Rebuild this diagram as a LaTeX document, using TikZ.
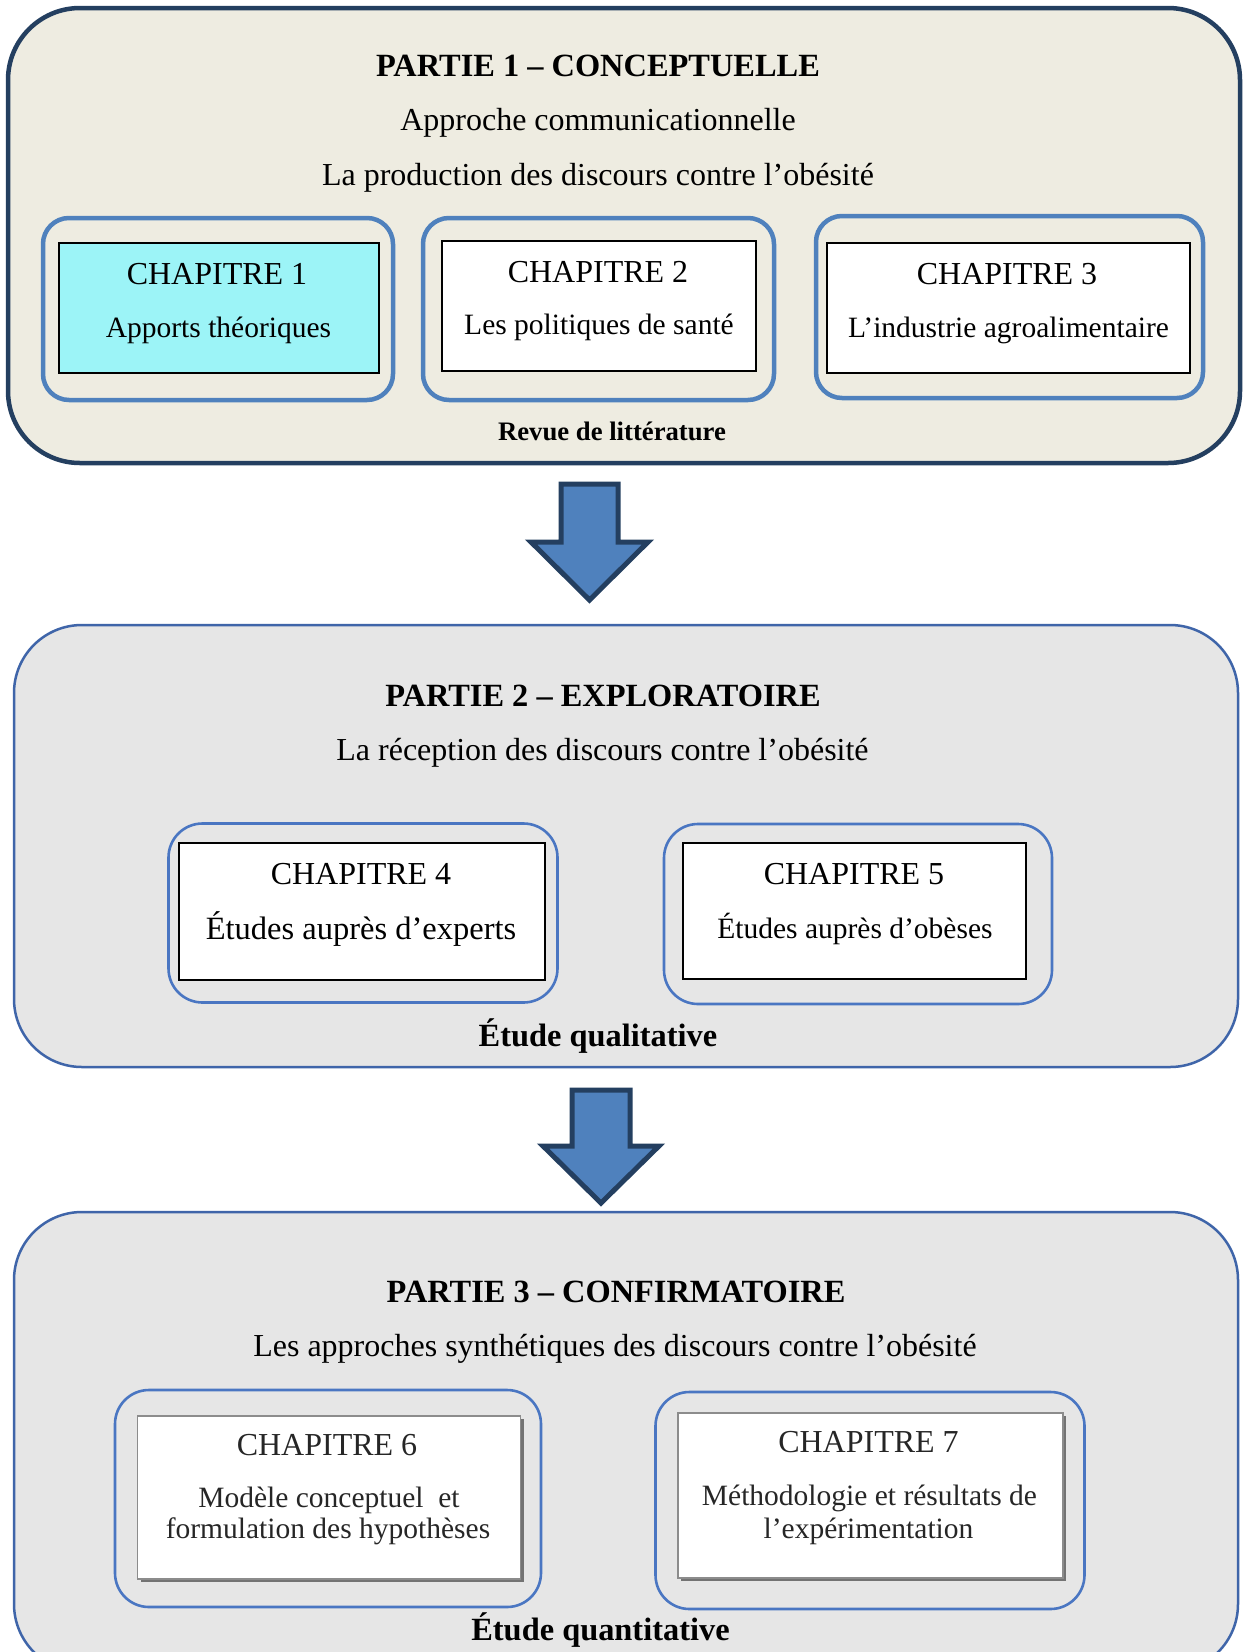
\documentclass[tikz,border=0pt]{standalone}
\usepackage{fontspec}
\setmainfont{Liberation Serif}
\definecolor{navy}{HTML}{243F60}
\definecolor{tanbg}{HTML}{EEECE1}
\definecolor{grbg}{HTML}{E6E6E6}
\definecolor{accblue}{HTML}{4F81BD}
\definecolor{partblue}{HTML}{3F65A9}
\definecolor{chapblue}{HTML}{4A76C2}
\definecolor{cyanfill}{HTML}{9CF4F7}
\newcommand\ftitle{\fontsize{32.4}{37}\selectfont\bfseries}
\newcommand\fsubt{\fontsize{32}{37}\selectfont}
\newcommand\fchap{\fontsize{32}{37}\selectfont}
\newcommand\fchbody{\fontsize{29.5}{34}\selectfont}
\newcommand\fchbig{\fontsize{32.5}{37}\selectfont}
\newcommand\fsmallb{\fontsize{26.7}{31}\selectfont\bfseries}
\begin{document}
\begin{tikzpicture}[x=1pt,y=-1pt,
  every node/.style={inner sep=0pt, outer sep=0pt},
  partone/.style={draw=navy, line width=4.5pt, fill=tanbg, rounded corners=72pt},
  partgray/.style={draw=partblue, line width=2.5pt, fill=grbg, rounded corners=68pt},
  chouterA/.style={draw=accblue, line width=4.5pt, rounded corners=26pt},
  chouterB/.style={draw=chapblue, line width=2.6pt, rounded corners=34pt},
  chrect/.style={draw=black, line width=2pt, fill=white},
  chshadow/.style={draw=black!45, line width=1.2pt, fill=white},
  txt/.style={anchor=base, align=center},
  blockarrow/.style={fill=accblue, draw=navy, line width=5pt, line join=miter}
]
\useasboundingbox (0,0) rectangle (1245,1652);
\fill[white] (0,0) rectangle (1245,1652);

% ---------- PARTIE 1 ----------
\node[partone, minimum width=1232pt, minimum height=455pt] (p1) at (624,235.5) {};
\node[txt, font=\ftitle] (p1t) at (598,76) {PARTIE 1 – CONCEPTUELLE};
\node[txt, font=\fsubt] (p1a) at (598,130) {Approche communicationnelle};
\node[txt, font=\fsubt] (p1b) at (598,185) {La production des discours contre l’obésité};

\node[chouterA, minimum width=350pt, minimum height=182pt] (o1) at (218,309) {};
\node[chrect, fill=cyanfill, minimum width=320pt, minimum height=130pt] (c1) at (219,308) {};
\node[txt, font=\fchap] (c1a) at (217,284) {CHAPITRE 1};
\node[txt, font=\fchbody] (c1b) at (218.5,337) {Apports théoriques};

\node[chouterA, minimum width=351pt, minimum height=182pt] (o2) at (598.5,309) {};
\node[chrect, minimum width=314pt, minimum height=130pt] (c2) at (599,306) {};
\node[txt, font=\fchap] (c2a) at (598,282) {CHAPITRE 2};
\node[txt, font=\fchbody] (c2b) at (599,334) {Les politiques de santé};

\node[chouterA, minimum width=387pt, minimum height=182pt] (o3) at (1009.5,307) {};
\node[chrect, minimum width=363pt, minimum height=130pt] (c3) at (1008.5,308) {};
\node[txt, font=\fchap] (c3a) at (1007,284) {CHAPITRE 3};
\node[txt, font=\fchbody] (c3b) at (1008.5,337) {L’industrie agroalimentaire};

\node[txt, font=\fsmallb] (p1r) at (612,440) {Revue de littérature};

% ---------- arrow 1 ----------
\draw[blockarrow] (561,484) -- (618,484) -- (618,542) -- (648,542) -- (589.5,600)
  -- (531,542) -- (561,542) -- cycle;

% ---------- PARTIE 2 ----------
\node[partgray, minimum width=1224pt, minimum height=442pt] (p2) at (626,846) {};
\node[txt, font=\ftitle] (p2t) at (603,706) {PARTIE 2 – EXPLORATOIRE};
\node[txt, font=\fsubt] (p2a) at (602.5,760) {La réception des discours contre l’obésité};

\node[chouterB, minimum width=389pt, minimum height=179pt] (o4) at (363,913) {};
\node[chrect, minimum width=366pt, minimum height=137pt] (c4) at (361.5,911.5) {};
\node[txt, font=\fchap] (c4a) at (361,884) {CHAPITRE 4};
\node[txt, font=\fchbig] (c4b) at (361,939) {Études auprès d’experts};

\node[chouterB, minimum width=388pt, minimum height=180pt] (o5) at (858,914) {};
\node[chrect, minimum width=343pt, minimum height=136pt] (c5) at (854.5,911) {};
\node[txt, font=\fchap] (c5a) at (854,884) {CHAPITRE 5};
\node[txt, font=\fchbody] (c5b) at (855,938) {Études auprès d’obèses};

\node[txt, font=\ftitle] (p2q) at (598,1046) {Étude qualitative};

% ---------- arrow 2 ----------
\draw[blockarrow] (572,1090) -- (630,1090) -- (630,1146) -- (659,1146) -- (601,1203)
  -- (543,1146) -- (572,1146) -- cycle;

% ---------- PARTIE 3 ----------
\node[partgray, minimum width=1224pt, minimum height=460pt] (p3) at (626,1442) {};
\node[txt, font=\ftitle] (p3t) at (616,1302) {PARTIE 3 – CONFIRMATOIRE};
\node[txt, font=\fsubt] (p3a) at (615,1356) {Les approches synthétiques des discours contre l’obésité};

\node[chouterB, minimum width=426pt, minimum height=217pt] (o6) at (328,1498.5) {};
\fill[black!55] (141,1419) rectangle (524,1582);
\node[chshadow, minimum width=383pt, minimum height=163pt] (c6) at (329,1497.5) {};
\node[txt, font=\fchap, text=black!85] (c6a) at (327,1455) {CHAPITRE 6};
\node[txt, font=\fchbody, text=black!85] (c6b) at (329,1507) {Modèle conceptuel \ et};
\node[txt, font=\fchbody, text=black!85] (c6c) at (328,1538) {formulation des hypothèses};

\node[chouterB, minimum width=429pt, minimum height=217pt] (o7) at (870,1500.5) {};
\fill[black!55] (681,1416) rectangle (1066,1581);
\node[chshadow, minimum width=385pt, minimum height=165pt] (c7) at (870.5,1495.5) {};
\node[txt, font=\fchap, text=black!85] (c7a) at (868.5,1452) {CHAPITRE 7};
\node[txt, font=\fchbody, text=black!85] (c7b) at (869.5,1505) {Méthodologie et résultats de};
\node[txt, font=\fchbody, text=black!85] (c7c) at (868.5,1538) {l’expérimentation};

\node[txt, font=\ftitle] (p3q) at (600.5,1640) {Étude quantitative};
\end{tikzpicture}
\end{document}
